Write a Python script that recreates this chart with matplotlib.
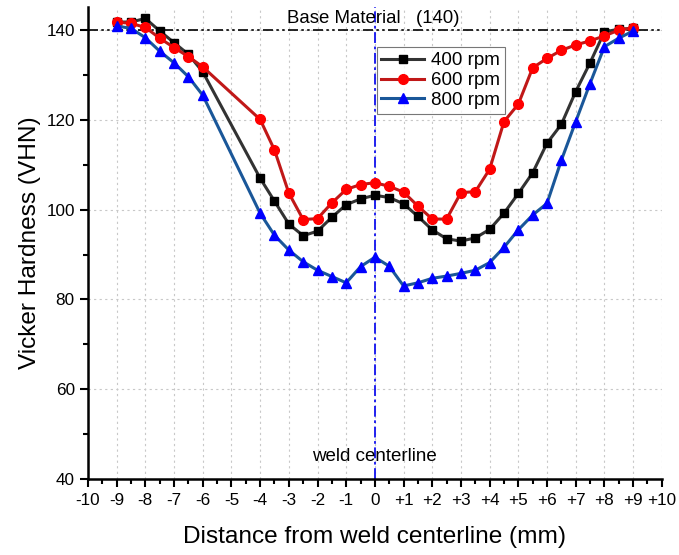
import numpy as np
import matplotlib
matplotlib.use("Agg")
import matplotlib.pyplot as plt
from matplotlib.ticker import MultipleLocator

plt.rcParams['font.family'] = ['Liberation Sans', 'DejaVu Sans']

# distance from weld centerline (mm)
x = [-9, -8.5, -8, -7.5, -7, -6.5, -6, -4, -3.5, -3, -2.5, -2, -1.5, -1, -0.5,
     0, 0.5, 1, 1.5, 2, 2.5, 3, 3.5, 4, 4.5, 5, 5.5, 6, 6.5, 7, 7.5, 8, 8.5, 9]

hv_400 = [141.8, 141.8, 142.6, 139.8, 137.2, 134.6, 130.7, 107.0, 101.9, 96.8, 94.2,
          95.2, 98.3, 101.1, 102.4, 103.2, 102.7, 101.3, 98.5, 95.5, 93.5, 93.0, 93.7,
          95.6, 99.2, 103.6, 108.2, 114.8, 119.0, 126.3, 132.7, 139.6, 140.2, 140.4]
hv_600 = [141.8, 141.5, 140.6, 138.2, 136.1, 134.1, 131.8, 120.1, 113.3, 103.7, 97.8,
          98.0, 101.5, 104.5, 105.6, 106.0, 105.2, 103.9, 100.8, 97.9, 97.9, 103.8, 104.0,
          109.0, 119.6, 123.5, 131.6, 133.7, 135.5, 136.7, 137.6, 138.7, 140.0, 140.5]
hv_800 = [140.9, 140.4, 138.3, 135.3, 132.7, 129.6, 125.5, 99.2, 94.3, 91.0, 88.4,
          86.5, 85.1, 83.7, 87.3, 89.4, 87.4, 83.0, 83.7, 84.7, 85.2, 85.8, 86.5,
          88.2, 91.6, 95.5, 98.8, 101.4, 111.0, 119.6, 128.1, 136.3, 138.2, 139.8]

base_hv = 140
xticks = list(range(-10, 11))
xtick_labels = [("+%d" % v) if v > 0 else str(v) for v in xticks]

fig = plt.figure(figsize=(6.79, 5.55), dpi=100)
ax = fig.add_axes([0.1296, 0.137, 0.845, 0.850])

ax.grid(True, which='major', color='#c8c8c8', linestyle=(0, (2, 3)), linewidth=0.8)
ax.set_axisbelow(True)

ax.axhline(base_hv, color='black', linestyle=(0, (6, 2, 1.5, 2, 1.5, 2)), linewidth=1.2, zorder=2)
ax.axvline(0, color='#1010ee', linestyle=(0, (6, 2, 1.5, 2)), linewidth=1.3, zorder=2)

ax.plot(x, hv_400, color='#333333', linewidth=2.2, marker='s', markersize=6.3,
        markerfacecolor='black', markeredgecolor='black', label='400 rpm', zorder=3)
ax.plot(x, hv_600, color='#c01818', linewidth=2.2, marker='o', markersize=7,
        markerfacecolor='#ff0000', markeredgecolor='#ff0000', label='600 rpm', zorder=4)
ax.plot(x, hv_800, color='#1a5799', linewidth=2.2, marker='^', markersize=7.5,
        markerfacecolor='#0000ff', markeredgecolor='#0000ff', label='800 rpm', zorder=5)

ax.text(-3.05, 140.6, 'Base Material   (140)', fontsize=13.4, va='bottom', ha='left')
ax.text(0, 45.0, 'weld centerline', fontsize=13.5, va='center', ha='center')

ax.set_xlim(-10, 10)
ax.set_ylim(40, 145.1)
ax.set_xticks(xticks)
ax.set_xticklabels(xtick_labels)
ax.xaxis.set_minor_locator(MultipleLocator(0.5))
ax.set_yticks([40, 60, 80, 100, 120, 140])
ax.yaxis.set_minor_locator(MultipleLocator(10))

ax.spines['top'].set_visible(False)
ax.spines['right'].set_visible(False)
ax.spines['left'].set_linewidth(1.8)
ax.spines['bottom'].set_linewidth(1.8)
ax.tick_params(axis='both', which='major', direction='out', length=6, width=1.5,
               labelsize=12.3, colors='black')
ax.tick_params(axis='both', which='minor', direction='out', length=3.5, width=1.5)
ax.tick_params(axis='x', pad=4)

ax.set_xlabel('Distance from weld centerline (mm)', fontsize=17.6, labelpad=13)
ax.set_ylabel('Vicker Hardness (VHN)', fontsize=17.6, labelpad=4)

leg = ax.legend(loc='upper left', bbox_to_anchor=(0.503, 0.915), fontsize=13.5,
                frameon=True, fancybox=False, borderaxespad=0, handlelength=2.3,
                handletextpad=0.35, borderpad=0.25, labelspacing=0.15)
leg.get_frame().set_edgecolor('#555555')
leg.get_frame().set_linewidth(0.8)

fig.savefig('out.png', dpi=100)
